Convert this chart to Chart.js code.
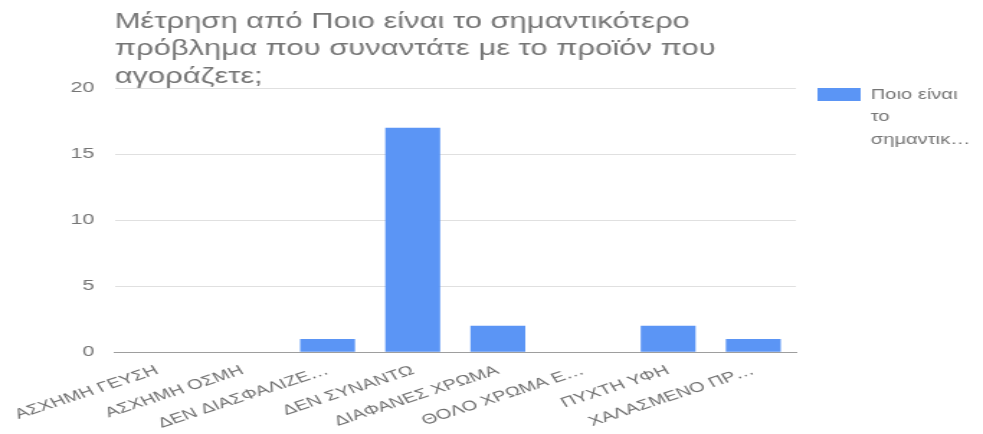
<!DOCTYPE html>
<html>
<head>
<meta charset="utf-8">
<script src="https://cdn.jsdelivr.net/npm/chart.js@4/dist/chart.umd.min.js"></script>
<style>
  body { margin: 0; background: #fff; overflow: hidden; }
  /* het origineel is horizontaal uitgerekt, dus smaller tekenen en breder tonen */
  #wrap { width: 683px; height: 434px; transform: scaleX(1.4392); transform-origin: 0 0; }
</style>
</head>
<body>
<div id="wrap"><canvas id="grafiek" width="683" height="434"></canvas></div>
<script>
// titel en reeksnaam
const titelRegels = ['Μέτρηση από Ποιο είναι το σημαντικότερο', 'πρόβλημα που συναντάτε με το προϊόν που', 'αγοράζετε;'];
const reeksNaam = 'Ποιο είναι το σημαντικ…';

// categorieen (zoals ze op de as staan) en aantallen
const categorieen = ['ΑΣΧΗΜΗ ΓΕΥΣΗ', 'ΑΣΧΗΜΗ ΟΣΜΗ', 'ΔΕΝ ΔΙΑΣΦΑΛΙΖΕ…', 'ΔΕΝ ΣΥΝΑΝΤΩ', 'ΔΙΑΦΑΝΕΣ ΧΡΩΜΑ', 'ΘΟΛΟ ΧΡΩΜΑ Ε…', 'ΠΥΧΤΗ ΥΦΗ', 'ΧΑΛΑΣΜΕΝΟ ΠΡ…'];
const aantallen = [0, 0, 1, 17, 2, 0, 2, 1];

const balkKleur = '#5b95f5';
const grijs = '#757575';
const lettertype = 'Arial, "Liberation Sans", sans-serif';

// titel en legenda zelf tekenen (legenda loopt over meerdere regels)
const eigenTekst = {
  id: 'eigenTekst',
  afterDraw(chart) {
    const ctx = chart.ctx;
    const area = chart.chartArea;
    ctx.save();
    ctx.fillStyle = grijs;
    ctx.textBaseline = 'middle';
    ctx.textAlign = 'left';
    ctx.font = '21.5px ' + lettertype;
    titelRegels.forEach((r, i) => ctx.fillText(r, area.left, 22 + i * 27.5));

    // legenda
    const lx = area.right + 15;
    const ly = area.top;
    ctx.fillStyle = chart.data.datasets[0].backgroundColor;
    ctx.fillRect(lx, ly, 30, 13);
    ctx.fillStyle = grijs;
    ctx.font = '14px ' + lettertype;
    const woorden = chart.data.datasets[0].label.split(' ');
    const regels = [];
    let huidig = '';
    woorden.forEach(w => {
      const test = huidig ? huidig + ' ' + w : w;
      if (ctx.measureText(test).width > 72 && huidig) {
        regels.push(huidig);
        huidig = w;
      } else {
        huidig = test;
      }
    });
    regels.push(huidig);
    regels.forEach((r, i) => ctx.fillText(r, lx + 37, ly + 7 + i * 22.5));
    ctx.restore();
  }
};

const grafiek = new Chart(document.getElementById('grafiek'), {
  type: 'bar',
  data: {
    labels: categorieen,
    datasets: [{
      label: reeksNaam,
      data: aantallen,
      backgroundColor: balkKleur,
      categoryPercentage: 1,
      barPercentage: 0.645
    }]
  },
  options: {
    responsive: false,
    devicePixelRatio: 1,
    animation: false,
    layout: { padding: { top: 88, right: 130, left: 35, bottom: 0 } },
    plugins: {
      legend: { display: false },
      title: { display: false },
      tooltip: { enabled: false }
    },
    scales: {
      x: {
        grid: { display: false },
        border: { color: '#9e9e9e', width: 1 },
        ticks: {
          color: '#6f6f6f',
          font: { size: 14, family: lettertype },
          minRotation: 25,
          maxRotation: 25,
          autoSkip: false,
          padding: 2
        }
      },
      y: {
        min: 0,
        max: 20,
        border: { display: false },
        grid: {
          color: (c) => c.tick.value === 0 ? '#9e9e9e' : '#e0e0e0',
          drawTicks: false
        },
        ticks: {
          stepSize: 5,
          color: grijs,
          padding: 14,
          font: { size: 15, family: lettertype }
        }
      }
    }
  },
  plugins: [eigenTekst]
});
</script>
</body>
</html>
